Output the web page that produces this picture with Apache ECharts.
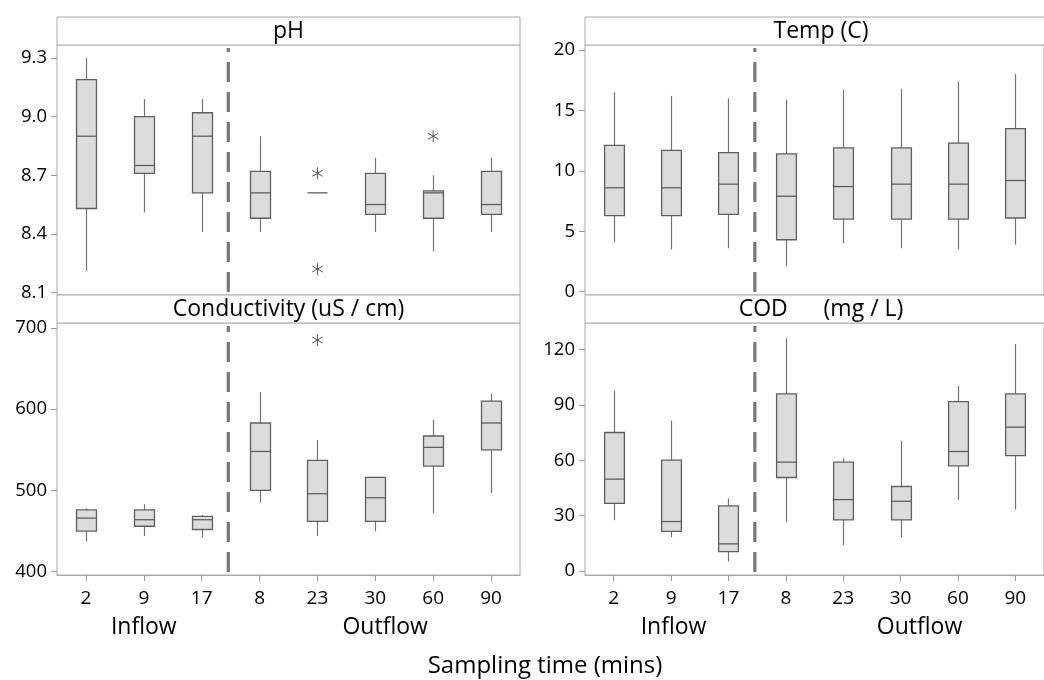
<!DOCTYPE html>
<html><head><meta charset="utf-8">
<script src="https://cdn.jsdelivr.net/npm/echarts@6/dist/echarts.min.js"></script>
<style>html,body{margin:0;padding:0;background:#fff}#c{width:1044px;height:680px}</style>
</head><body><div id="c"></div>
<script>
const categories = ['2', '9', '17', '8', '23', '30', '60', '90'];
// each box: [min, Q1, median, Q3, max]
const phBoxes = [
  [8.21, 8.53, 8.90, 9.19, 9.30],
  [8.51, 8.71, 8.75, 9.00, 9.09],
  [8.41, 8.61, 8.90, 9.02, 9.09],
  [8.41, 8.48, 8.61, 8.72, 8.90],
  [8.61, 8.61, 8.61, 8.61, 8.61],
  [8.41, 8.50, 8.55, 8.71, 8.79],
  [8.31, 8.48, 8.61, 8.62, 8.70],
  [8.41, 8.50, 8.55, 8.72, 8.79]
];
const phOutliers = [[4, 8.71], [4, 8.22], [6, 8.90]];
const tempBoxes = [
  [4.1, 6.3, 8.6, 12.1, 16.5],
  [3.5, 6.3, 8.6, 11.7, 16.2],
  [3.6, 6.4, 8.9, 11.5, 16.0],
  [2.1, 4.3, 7.9, 11.4, 15.9],
  [4.0, 6.0, 8.7, 11.9, 16.7],
  [3.6, 6.0, 8.9, 11.9, 16.8],
  [3.5, 6.0, 8.9, 12.3, 17.4],
  [3.9, 6.1, 9.2, 13.5, 18.0]
];
const tempOutliers = [];
const condBoxes = [
  [437, 450, 466, 476, 478],
  [444, 456, 464, 476, 483],
  [442, 452, 464, 468, 470],
  [485, 500, 548, 583, 621],
  [444, 462, 496, 537, 562],
  [450, 462, 491, 516, 516],
  [472, 530, 553, 567, 587],
  [497, 550, 583, 610, 619]
];
const condOutliers = [[4, 685]];
const codBoxes = [
  [27.5, 36.6, 49.8, 75.1, 97.9],
  [18.3, 21.5, 26.8, 60.1, 81.6],
  [5.1, 10.5, 14.7, 35.3, 39.3],
  [26.4, 50.7, 59.0, 96.1, 126.3],
  [13.9, 27.7, 38.7, 59.0, 61.2],
  [18.3, 27.7, 37.8, 45.8, 70.6],
  [38.6, 57.0, 64.8, 91.8, 100.3],
  [33.3, 62.6, 78.0, 96.1, 123.1]
];
const codOutliers = [];
const phTicks = [8.1, 8.4, 8.7, 9.0, 9.3];
const tempTicks = [0, 5, 10, 15, 20];
const condTicks = [400, 500, 600, 700];
const codTicks = [0, 30, 60, 90, 120];
const groupLabels = ['Inflow', 'Outflow'];
const panelTitles = ['pH', 'Temp (C)', 'Conductivity (uS / cm)', 'COD      (mg / L)'];
const xTitle = 'Sampling time (mins)';
const dividerPos = 2.46; // between category 17 and 8

const FONT = '"Open Sans", "Noto Sans", sans-serif';
const panels = [
  {title: panelTitles[0], boxes: phBoxes, outliers: phOutliers, ticks: phTicks, min: 8.087, max: 9.367, dec: 1,
   grid: {left: 57, top: 45, width: 463, height: 250}, bottom: false},
  {title: panelTitles[1], boxes: tempBoxes, outliers: tempOutliers, ticks: tempTicks, min: -0.27, max: 20.41, dec: 0,
   grid: {left: 585, top: 45, width: 472, height: 250}, bottom: false},
  {title: panelTitles[2], boxes: condBoxes, outliers: condOutliers, ticks: condTicks, min: 396, max: 706, dec: 0,
   grid: {left: 57, top: 323, width: 463, height: 252}, bottom: true},
  {title: panelTitles[3], boxes: codBoxes, outliers: codOutliers, ticks: codTicks, min: -2.2, max: 134.5, dec: 0,
   grid: {left: 585, top: 323, width: 472, height: 252}, bottom: true}
];

const BORDER = '#a9a9a9';
const BOXLINE = '#5f5f5f';
const WHISK = '#737373';

function renderBox(params, api) {
  const x = api.value(0);
  const mn = api.value(1), q1 = api.value(2), md = api.value(3), q3 = api.value(4), mx = api.value(5);
  const pMin = api.coord([x, mn]), pQ1 = api.coord([x, q1]), pMd = api.coord([x, md]);
  const pQ3 = api.coord([x, q3]), pMx = api.coord([x, mx]);
  const bw = api.size([1, 0])[0] * 0.345;
  const cx = Math.round(pMd[0]) + 0.5;
  const ch = [];
  if (mx > q3) ch.push({type: 'line', shape: {x1: cx, y1: pQ3[1], x2: cx, y2: pMx[1]}, style: {stroke: WHISK, lineWidth: 1.2}});
  if (mn < q1) ch.push({type: 'line', shape: {x1: cx, y1: pQ1[1], x2: cx, y2: pMin[1]}, style: {stroke: WHISK, lineWidth: 1.2}});
  if (q3 > q1) {
    ch.push({type: 'rect', shape: {x: cx - bw / 2, y: pQ3[1], width: bw, height: pQ1[1] - pQ3[1]},
      style: {fill: '#dcdcdc', stroke: BOXLINE, lineWidth: 1.3}});
  }
  ch.push({type: 'line', shape: {x1: cx - bw / 2, y1: pMd[1], x2: cx + bw / 2, y2: pMd[1]}, style: {stroke: BOXLINE, lineWidth: 1.3}});
  return {type: 'group', children: ch};
}
function renderStar(params, api) {
  const p = api.coord([api.value(0), api.value(1)]);
  const r = 6;
  const ch = [90, 30, 150].map(function (a) {
    const rad = a * Math.PI / 180, dx = r * Math.cos(rad), dy = r * Math.sin(rad);
    return {type: 'line', shape: {x1: p[0] - dx, y1: p[1] - dy, x2: p[0] + dx, y2: p[1] + dy}, style: {stroke: '#555', lineWidth: 1}};
  });
  return {type: 'group', children: ch};
}

const grids = [], xAxes = [], yAxes = [], series = [], graphics = [];
panels.forEach(function (p, i) {
  grids.push(Object.assign({show: true, borderColor: BORDER, borderWidth: 1, backgroundColor: '#fff'}, p.grid));
  xAxes.push({
    type: 'category', gridIndex: i, data: categories, show: true, position: 'bottom',
    axisLine: {show: p.bottom, onZero: false, lineStyle: {color: BORDER}},
    axisTick: {show: p.bottom, alignWithLabel: true, length: 6, lineStyle: {color: '#999'}},
    axisLabel: {show: p.bottom, margin: 14, fontSize: 19, color: '#000', fontFamily: FONT},
    splitLine: {show: false}
  });
  xAxes.push({type: 'value', gridIndex: i, min: -0.5, max: 7.5, show: false});
  yAxes.push({
    type: 'value', gridIndex: i, min: p.min, max: p.max, position: 'left',
    axisLine: {show: false, onZero: false},
    axisTick: {show: true, length: 6, lineStyle: {color: '#999'}, customValues: p.ticks},
    axisLabel: {margin: 10, fontSize: 18.5, color: '#000', fontFamily: FONT, customValues: p.ticks,
      formatter: function (v) { return Number(v).toFixed(p.dec); }},
    splitLine: {show: false}
  });
  series.push({
    type: 'custom', xAxisIndex: i * 2, yAxisIndex: i, renderItem: renderBox,
    data: p.boxes.map(function (b, k) { return [k].concat(b); }), silent: true, z: 3
  });
  if (p.outliers.length) series.push({
    type: 'custom', xAxisIndex: i * 2, yAxisIndex: i, renderItem: renderStar,
    data: p.outliers, silent: true, z: 4
  });
  const span = p.max - p.min;
  series.push({
    type: 'line', xAxisIndex: i * 2 + 1, yAxisIndex: i, symbol: 'none', silent: true, z: 2,
    data: [[dividerPos, p.min + span * 0.012], [dividerPos, p.max - span * 0.012]],
    lineStyle: {color: '#777', width: 3.2, type: [20, 10]}
  });
  // header strip
  const g = p.grid;
  graphics.push({type: 'rect', shape: {x: g.left, y: g.top - 28, width: g.width, height: 28},
    style: {fill: '#fff', stroke: BORDER, lineWidth: 1}, z: 10});
  graphics.push({type: 'text', x: g.left + g.width / 2, y: g.top - 14, z: 11,
    style: {text: p.title, font: '23px ' + FONT, fill: '#000', textAlign: 'center', textVerticalAlign: 'middle', align: 'center', verticalAlign: 'middle'}});
  if (p.bottom) {
    const band = g.width / categories.length;
    [[groupLabels[0], 1], [groupLabels[1], 5.17]].forEach(function (gl) {
      graphics.push({type: 'text', x: g.left + band * (gl[1] + 0.5), y: 627, z: 11,
        style: {text: gl[0], font: '23px ' + FONT, fill: '#000', textAlign: 'center', textVerticalAlign: 'middle', align: 'center', verticalAlign: 'middle'}});
    });
  }
});
graphics.push({type: 'text', x: 545, y: 666, z: 11,
  style: {text: xTitle, font: '24px ' + FONT, fill: '#000', textAlign: 'center', textVerticalAlign: 'middle', align: 'center', verticalAlign: 'middle'}});

const chart = echarts.init(document.getElementById('c'), null, {renderer: 'canvas'});
chart.setOption({
  animation: false,
  backgroundColor: '#fff',
  grid: grids, xAxis: xAxes, yAxis: yAxes, series: series, graphic: graphics
});
</script></body></html>
